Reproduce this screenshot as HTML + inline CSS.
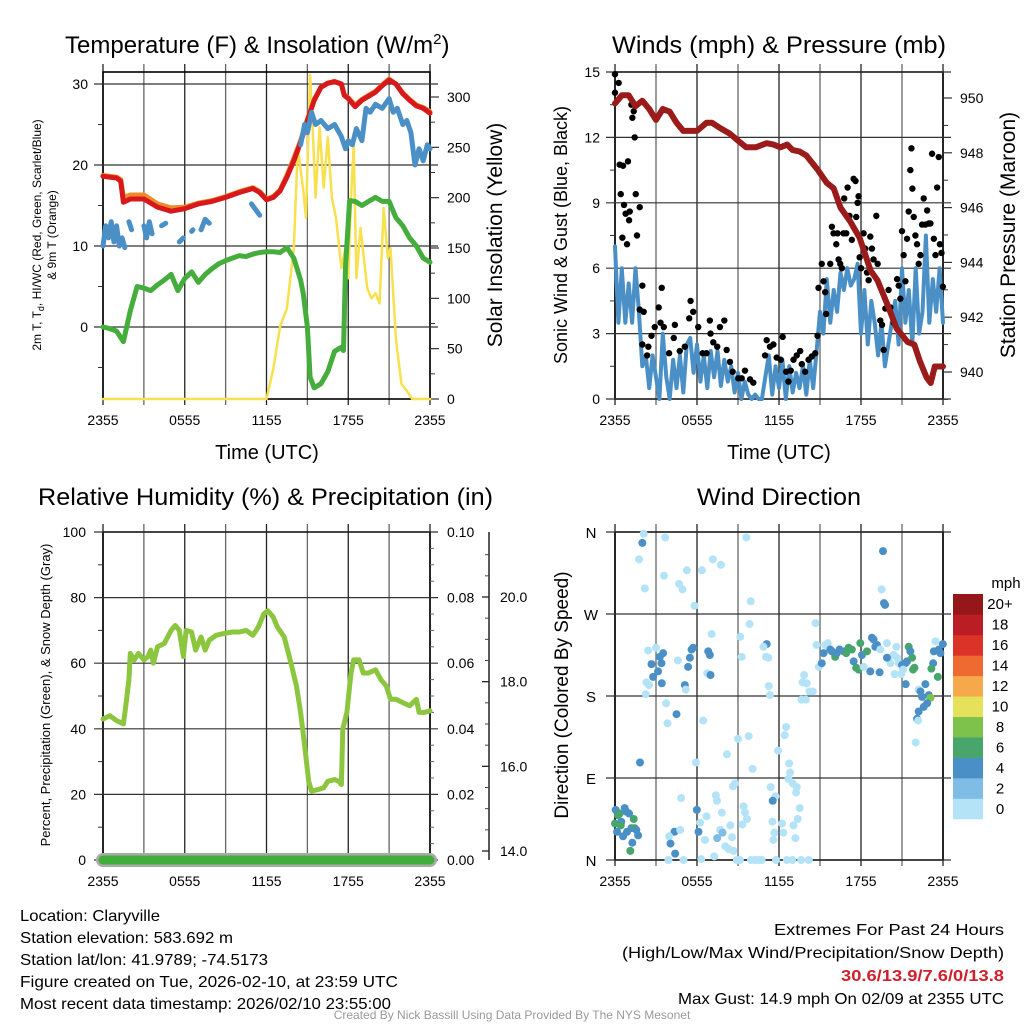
<!DOCTYPE html>
<html><head><meta charset="utf-8"><style>
html,body{margin:0;padding:0;background:#fff;}
svg{display:block;font-family:"Liberation Sans",Arial,sans-serif;}
</style></head><body>
<svg id="page" width="1024" height="1024" viewBox="0 0 1024 1024" xmlns="http://www.w3.org/2000/svg">
<rect x="0" y="0" width="1024" height="1024" fill="#fff"/>
<!-- titles -->
<text x="65" y="53" font-size="24">Temperature (F) &amp; Insolation (W/m<tspan font-size="15" dy="-9">2</tspan><tspan dy="9">)</tspan></text>
<text x="612" y="53" font-size="24" textLength="334" lengthAdjust="spacingAndGlyphs">Winds (mph) &amp; Pressure (mb)</text>
<text x="38" y="505" font-size="24" textLength="455" lengthAdjust="spacingAndGlyphs">Relative Humidity (%) &amp; Precipitation (in)</text>
<text x="697" y="505" font-size="24" textLength="164" lengthAdjust="spacingAndGlyphs">Wind Direction</text>
<!-- x axis titles -->
<text x="267" y="459" font-size="20" text-anchor="middle">Time (UTC)</text>
<text x="779" y="459" font-size="20" text-anchor="middle">Time (UTC)</text>
<!-- y axis titles -->
<text transform="translate(41,235) rotate(-90)" font-size="12" text-anchor="middle">2m T, T<tspan font-size="9" dy="3">d</tspan><tspan dy="-3">, HI/WC (Red, Green, Scarlet/Blue)</tspan></text>
<text transform="translate(56,235) rotate(-90)" font-size="12" text-anchor="middle">&amp; 9m T (Orange)</text>
<text transform="translate(502,235) rotate(-90)" font-size="21" text-anchor="middle">Solar Insolation (Yellow)</text>
<text transform="translate(567,235) rotate(-90)" font-size="18" text-anchor="middle">Sonic Wind &amp; Gust (Blue, Black)</text>
<text transform="translate(1015,235) rotate(-90)" font-size="21" text-anchor="middle">Station Pressure (Maroon)</text>
<text transform="translate(50,695) rotate(-90)" font-size="13" text-anchor="middle">Percent, Precipitation (Green), &amp; Snow Depth (Gray)</text>
<text transform="translate(568,695) rotate(-90)" font-size="19" text-anchor="middle">Direction (Colored By Speed)</text>
<!-- footer -->
<g font-size="16">
<text x="20" y="921" textLength="140" lengthAdjust="spacingAndGlyphs">Location: Claryville</text>
<text x="20" y="943" textLength="213" lengthAdjust="spacingAndGlyphs">Station elevation: 583.692 m</text>
<text x="20" y="965" textLength="248" lengthAdjust="spacingAndGlyphs">Station lat/lon: 41.9789; -74.5173</text>
<text x="20" y="987" textLength="378" lengthAdjust="spacingAndGlyphs">Figure created on Tue, 2026-02-10, at 23:59 UTC</text>
<text x="20" y="1009" textLength="371" lengthAdjust="spacingAndGlyphs">Most recent data timestamp: 2026/02/10 23:55:00</text>
</g>
<g font-size="16">
<text x="774" y="935" textLength="230" lengthAdjust="spacingAndGlyphs">Extremes For Past 24 Hours</text>
<text x="622" y="958" textLength="382" lengthAdjust="spacingAndGlyphs">(High/Low/Max Wind/Precipitation/Snow Depth)</text>
<text x="841" y="981" textLength="163" lengthAdjust="spacingAndGlyphs" fill="#d0202a" font-weight="bold">30.6/13.9/7.6/0/13.8</text>
<text x="678" y="1004" textLength="326" lengthAdjust="spacingAndGlyphs">Max Gust: 14.9 mph On 02/09 at 2355 UTC</text>
</g>
<text x="512" y="1019" font-size="12" fill="#999" text-anchor="middle">Created By Nick Bassill Using Data Provided By The NYS Mesonet</text>
<g id="charts"></g>
</svg>
<script>
// ===== Data =====
const timeTickLabels = ["2355","0555","1155","1755","2355"];
// Temperature panel
const tempTicks = [0,10,20,30];
const solarTicks = [0,50,100,150,200,250,300];
const redT = [0,0.5,1,1.3,1.5,2,3,4,5,6,7,8,9,10,11,11.5,12,12.5,13,13.5,14,14.5,15,15.5,16,16.5,17,17.5,17.7,18,18.5,19,19.5,20,20.5,21,21.5,22,22.5,23,23.5,24];
const redV = [18.6,18.5,18.4,18.0,15.4,15.8,15.8,14.8,14.3,14.6,15.2,15.5,16.0,16.6,17.1,16.6,15.7,16.0,16.8,18.5,20.5,22.8,25.5,28.0,29.6,30.1,30.3,30.0,28.6,28.2,27.2,28.0,28.5,29.0,29.8,30.5,30.0,28.8,28.0,27.3,27.0,26.4];
const orangeV = [18.7,18.6,18.5,18.2,16.0,16.3,16.3,15.2,14.7,14.8,15.3,15.6,16.1,16.7,17.2,16.7,15.8,16.1,16.9,18.7,20.8,23.0,25.6,28.0,29.6,30.1,30.3,30.0,28.7,28.3,27.4,28.1,28.6,29.1,29.9,30.6,30.0,28.9,28.1,27.4,27.1,26.6];
const blueT = [0,0.2,0.4,0.6,0.8,1.0,1.2,1.4,1.6,1.7,1.9,2.1,2.2,3.0,3.2,3.4,3.6,3.7,4.3,4.6,4.7,5.6,5.9,6.0,6.5,6.6,6.7,7.2,7.5,7.8,7.9,10.9,11.2,11.5,11.6,14.5,14.8,15.0,15.3,15.6,16.0,16.5,17.0,17.5,17.8,18.0,18.3,18.6,19.0,19.3,19.6,20.0,20.5,21.0,21.3,21.6,22.0,22.3,22.6,22.9,23.2,23.5,23.8,24.0];
const blueV = [10,12.5,11,13,10.5,12.5,10,11,9.8,null,13,12,null,12.5,11,13,11.5,null,12.5,12.8,null,10.5,11,null,11.8,12,null,12,13.3,12.8,null,15.2,14.5,13.8,null,22.5,25,24,26.5,25,25.5,24.5,25,23.5,22,23,22.5,24.5,23,27,26.5,27.5,27,28.2,26.5,27,25,25.5,24,20,22,20.5,22.5,22];
const greenT = [0,0.5,1,1.5,2,2.5,3,3.5,4,4.5,5,5.5,6,6.5,7,7.5,8,8.5,9,9.5,10,10.5,11,11.5,12,12.5,13,13.5,14,14.5,14.7,15,15.2,15.5,16,16.5,17,17.5,17.65,17.8,18.1,18.5,19,19.5,20,20.5,21,21.5,22,22.5,23,23.5,24];
const greenV = [0,-0.2,-0.5,-1.8,2,5,4.8,4.5,5.2,5.8,6.5,4.5,6.0,6.8,5.5,6.5,7.2,7.8,8.2,8.5,8.8,8.7,9.0,9.2,9.3,9.3,9.2,9.8,8.5,5.8,4.1,0,-6.2,-7.5,-7.0,-5.5,-3.0,-2.5,-2.9,7.4,15.6,15.5,15.0,15.5,16.0,15.5,15.5,13.5,12.5,11.0,10.0,8.5,8.0];
const solarT = [0,12,12.5,13,13.5,14,14.3,14.7,14.9,15.2,15.45,15.6,15.9,16.2,16.5,16.8,17.1,17.5,17.8,18.0,18.2,18.4,18.6,18.9,19.4,19.7,20.0,20.3,20.6,20.9,21.1,21.5,21.9,22.3,22.7,24];
const solarV = [0,0,30,72,90,150,250,207,180,322,250,200,270,210,260,200,180,130,150,120,200,252,120,170,110,100,105,95,190,140,150,60,15,8,0,0];
// Winds panel
const windTicks = [0,3,6,9,12,15];
const pressTicks = [940,942,944,946,948,950];
const windV = [7,3.5,6,3.5,5.3,3.5,6,4,1.5,2,0.5,2,1,0,3,1,0,1.8,0.5,2,0.3,2.5,2.8,1.2,2.5,0.8,2,0.5,2.2,1,2.2,0.6,1.8,0.8,1.5,0.3,1.2,0,0.8,0.2,0,0.2,0,0,1,2,0.2,1.5,0.5,1.8,0,1.5,0.3,1.2,0.5,1.5,0.2,1.8,0.5,2.2,4,3,5.5,3.5,5,4,5.8,5,6,5.2,5.5,6.2,3,5,2.5,4.5,3.5,2,3.5,1.5,2.5,3.5,4.5,2.5,6,3.5,5,2.5,6,3,4,7.5,3.5,5.5,4,6,3.5];
const gustT = [0,0,0.27,0.34,0.59,0.42,0.66,0.78,0.54,0.88,1.03,1.08,0.95,1.2,1.27,1.37,1.44,1.52,1.61,1.81,2.0,1.81,2.1,2.0,2.35,2.44,2.67,2.91,3.2,3.42,3.33,3.57,3.96,4.38,4.3,4.74,5.11,5.43,5.53,5.72,6.09,6.41,6.7,6.94,6.99,7.19,7.48,7.68,8.0,8.17,8.41,8.61,9.02,9.27,9.51,9.88,10.12,11.1,10.98,11.34,11.59,11.83,12.27,12.13,12.52,12.69,12.86,13.06,13.3,13.55,13.67,13.91,14.16,14.4,14.65,14.82,14.89,15.13,15.26,15.38,15.45,15.75,15.87,15.99,16.19,16.28,16.36,16.48,16.6,16.72,16.77,16.92,17.02,17.16,17.33,17.46,17.6,17.65,17.75,17.82,17.9,18.0,18.19,18.31,18.44,18.56,18.68,18.8,18.92,19.12,19.22,19.41,19.54,19.66,19.78,20.02,20.15,20.39,20.64,20.76,20.88,21.0,21.12,21.25,21.37,21.49,21.61,21.69,21.76,21.86,21.98,22.1,22.22,22.35,22.47,22.59,22.71,22.84,22.96,23.08,23.2,23.33,23.45,23.57,23.69,23.77,23.89,23.99];
const gustV = [14.9,14.05,14.5,10.75,10.7,9.4,8.9,8.5,7.4,7.1,8.2,8.6,10.9,13.5,12.9,13.2,12,9.4,7.5,8.8,5.2,4.1,4,2.5,2,2.4,2.9,3.3,4.2,5.1,3.5,3.3,2.1,3.4,2.8,2.2,2.4,3.7,4.5,4,3.3,2.1,2.1,3.6,3,2.6,2.4,3.3,3.6,2.25,1.7,1.25,0.95,0.95,1.3,0.9,0.75,2.7,2.0,2.4,2.5,1.9,2.85,1.8,1.25,0.8,1.3,1.8,2.0,2.2,1.6,1.25,1.8,1.95,2.1,2.9,5.1,6.2,5.4,4.9,3.9,6.2,7.9,7.6,7.1,7.6,6.4,6.2,6,7.6,9.2,7.6,9.7,8.4,7.3,10.1,10,8.35,9.0,9.3,6.5,6,7.6,6.9,5.8,5.45,7.45,6.9,6.4,8.4,6.2,3.6,3.4,2.25,4.15,5,4.2,3.5,5.5,5.2,4.6,7.7,6.6,5.4,7.35,8.6,10.5,11.5,9.65,8.35,7.5,7.1,6.2,6.6,8,9.2,8,8.65,8.05,8.05,11.25,7.35,6.6,9.7,11.1,7.1,6.7,5.15];
const pressT = [0,0.5,1,1.5,2,2.5,3,3.5,4,4.5,5,6,6.7,7.1,7.7,8.4,9.1,9.6,10.3,11.1,11.6,12.1,12.6,13.0,13.5,14,14.8,15.5,16,16.5,17.2,17.9,18.7,19.2,19.9,20.6,21.4,21.9,22.3,22.8,23.1,23.4,23.8,24];
const pressV = [949.8,950.1,950.1,949.7,949.9,949.6,949.2,949.6,949.5,949.1,948.8,948.8,949.1,949.1,948.9,948.7,948.4,948.2,948.2,948.35,948.3,948.2,948.3,948.1,948.05,947.9,947.4,946.9,946.7,946.0,945.5,944.9,943.7,943.35,942.5,941.6,941.1,941.0,940.4,939.8,939.6,940.2,940.2,940.2];
// Humidity panel
const rhTicks = [0,20,40,60,80,100];
const precipTickLabels = ["0.00","0.02","0.04","0.06","0.08","0.10"];
const snowTicks = [14,16,18,20];
const rhT = [0,0.5,1,1.5,1.7,1.9,2.0,2.3,2.6,3.0,3.3,3.5,3.7,4.0,4.5,5.0,5.3,5.6,5.9,6.1,6.5,6.8,7.2,7.5,7.8,8.3,8.8,9.5,10,10.5,11,11.4,11.8,12.1,12.5,12.8,13.3,13.8,14.2,14.5,14.8,15.1,15.3,15.8,16.2,16.5,17,17.3,17.5,17.6,17.9,18.2,18.4,18.8,19.1,19.5,20,20.4,20.8,21.1,21.5,22,22.5,23,23.2,23.6,24];
const rhV = [43,44,42.5,41.5,48,55,63,61,63,61,62,64,60,65,66,70,71.5,70,62,70,69.5,64,68,64,67,68.5,69,69.5,69.5,70,68.5,71,75,76,74,71,68,60,53,45,35,24,21,21.5,22,24,24.5,24,23,40,45,57,61,61,57,57,58,55,53,49,49,48,47,49,45,45,45.5];
const precipV = [0,0];
// Wind direction panel
const dirLabels = ["N","E","S","W","N"];
const speedBins = ["0","2","4","6","8","10","12","14","16","18","20+"];
const binColors = ["#b4e3f8","#7fbce6","#4a90c7","#48a66c","#7dc24a","#e6e15a","#f6a94a","#ef6a30","#dc3329","#bb1d25","#96171a"];
const dirT = [0.05,0,0.22,0.34,0.46,0.71,0.83,1.03,1.2,1.37,1.44,1.56,1.69,0.59,1.12,1.27,0.42,0.15,0.88,
2.1,2.0,1.76,2.18,3.67,3.59,4.69,4.94,5.26,6.36,7.16,7.75,5.82,9.61,9.93,9.85,2.42,3.0,2.67,3.28,3.52,3.4,2.79,3.15,3.42,2.3,2.49,2.25,3.74,3.84,4.5,1.83,4.6,5.35,5.48,5.6,5.72,5.11,5.18,6.82,6.94,7.07,6.75,6.99,9.17,9.27,11.1,10.86,11.05,11.22,11.25,11.34,14.67,14.74,13.84,13.72,14.03,14.23,14.47,13.64,13.96,6.45,9.0,9.78,12.52,12.42,11.93,5.92,8.19,10.07,12.74,12.81,12.69,13.01,13.3,13.25,11.39,11.74,11.54,8.63,8.78,7.38,7.46,4.84,5.99,6.23,6.7,7.82,9.41,9.51,9.66,9.32,8.44,7.7,7.87,7.48,8.56,8.07,8.31,8.66,6.11,6.58,7.26,4.35,3.96,4.06,4.4,4.77,3.91,5.01,6.31,8.92,9.14,9.95,10.24,10.49,10.73,11.78,12.57,12.98,13.62,14.18,11.52,11.66,12.32,12.22,13.06,13.2,13.37,13.52,11.59,19.61,19.51,19.76,19.68,
14.91,15.13,15.26,15.38,15.57,15.75,15.87,16.11,16.23,16.43,16.72,16.92,17.09,17.33,17.46,17.65,17.82,17.95,18.07,18.19,18.44,18.68,18.8,18.92,19.05,19.17,19.36,19.41,19.9,20.02,20.15,20.39,20.46,20.59,20.76,21.0,21.25,21.37,21.49,21.61,21.74,21.81,21.91,21.27,22.22,22.71,22.35,22.47,22.96,23.08,22.84,22.59,22.22,22.1,22.18,22.0,23.28,23.62,23.15,23.45,23.69,23.33,23.99,23.81,20.64,20.95,21.08,19.9];
const dirV = [55,40,49,51,42,57,53,51,35,45,35,33,27,26,10,19,38,31,31,
358,348,330,298,354,312,303,297,318,318,330,324,279,354,284,259,230,233,215,223,227,216,201,207,194,195,192,182,172,150,160,107,219,212,222,231,233,192,187,229,225,248,205,203,245,223,237,234,223,222,191,181,260,236,203,195,194,185,185,176,176,153,133,136,146,137,120,107,116,100,106,96,89,84,80,74,80,70,65,81,84,71,65,68,55,41,48,52,59,52,45,39,38,33,30,24,25,15,12,10,31,22,4,31,26,18,7,33,0,0,1,0,0,0,0,0,0,0,0,0,0,0,42,30,30,40,38,24,45,57,22,339,297,280,282,
212,216,227,236,238,231,229,223,227,231,229,227,233,231,218,211,209,238,225,212,229,207,244,242,234,236,206,231,238,222,216,225,204,234,216,214,216,218,234,229,222,209,211,193,187,193,185,179,181,178,172,168,163,155,153,129,216,201,210,240,231,229,237,227,222,204,209,222];
const dirSpd = [4.5,7,7,7,5,5,5,4.5,5,7,7,5,4.5,4.5,7,4.5,7,4.5,5,
1,4.5,1,1,1,1,1,1,1,1,1,1,1,1,1,1,1,1,5,5,4.5,4.5,4.5,4.5,4.5,1,1,1,1,1,5,4.5,1,4.5,4.5,4.5,4.5,4.5,1,4.5,4.5,1,1,4.5,1,1,5,1,1,1,1,1,1,1,1,1,1,1,1,1,1,1,1,1,1,1,1,1,1,1,1,1,1,1,1,1,1,1,4.5,1,1,1,1,1,4.5,1,1,1,1,1,1,1,1,1,3,3,1,1,1,1,4.5,1,1,4.5,1,4.5,4.5,1,1,1,1,1,1,1,1,1,1,1,1,1,1,1,1,1,1,1,1,1,1,1,1,4.5,1,5,4.5,1,
4.5,5,1,1,4.5,5,7,5,5,4.5,7,7,7,4.5,7,7,7,4.5,1,7,4.5,4.5,5,5,4.5,4.5,1,1,1,1,1,1,1,1,4.5,4.5,4.5,7,4.5,7,7,7,4.5,1,4.5,4.5,4.5,4.5,9,4.5,4.5,4.5,4.5,1,1,4.5,7,7,1,4.5,4.5,4.5,4.5,1,1,1,4.5,1];

// ===== Helpers =====
const NS = "http://www.w3.org/2000/svg";
const root = document.getElementById('charts');
function mk(tag, parent){ const e = document.createElementNS(NS, tag); (parent||root).appendChild(e); return e; }
function lin(d0,d1,r0,r1){ return v => r0 + (v-d0)/(d1-d0)*(r1-r0); }
function pathFrom(ts, vs, xf, yf){
  let d = "", pen = false;
  for (let i=0;i<ts.length;i++){
    const v = vs[i];
    if (v===null || v===undefined){ pen=false; continue; }
    const x = xf(ts[i]).toFixed(1), y = yf(v).toFixed(1);
    if (!pen){ d += "M"+x+" "+y; if (i+1>=ts.length || vs[i+1]===null) d += "L"+x+" "+y; pen=true; }
    else d += "L"+x+" "+y;
  }
  return d;
}
function line(x1,y1,x2,y2,stroke,w,name,g){
  const l = mk('line', g);
  l.setAttribute('x1',x1); l.setAttribute('y1',y1); l.setAttribute('x2',x2); l.setAttribute('y2',y2);
  l.setAttribute('stroke',stroke); l.setAttribute('stroke-width',w);
  
  
  return l;
}
function label(x,y,txt,anchor,size,name,g){
  const t = mk('text', g);
  t.setAttribute('x',x); t.setAttribute('y',y); t.setAttribute('text-anchor',anchor); t.setAttribute('font-size',size);
  t.textContent = txt;
  
  
  return t;
}
function series(g, ts, vs, xf, yf, color, w, name){
  const p = mk('path', g);
  p.setAttribute('d', pathFrom(ts, vs, xf, yf));
  p.setAttribute('fill','none'); p.setAttribute('stroke',color); p.setAttribute('stroke-width',w);
  p.setAttribute('stroke-linecap','round'); p.setAttribute('stroke-linejoin','round');
  
  
  return p;
}
function frame(g, P, name){
  for (let k=0;k<=8;k++){
    const x = P.x0 + k*(P.x1-P.x0)/8;
    line(x, P.y0-8, x, P.y1+6, k%2? "#666":"#222", 1.3, name+'-vgrid', g);
  }
  timeTickLabels.forEach((s,i)=>{
    label(P.x0 + i*(P.x1-P.x0)/4, P.y1+26, s, 'middle', 14, name+'-x-tick-label', g);
  });
  const r = mk('rect', g);
  r.setAttribute('x',P.x0); r.setAttribute('y',P.y0); r.setAttribute('width',P.x1-P.x0); r.setAttribute('height',P.y1-P.y0);
  r.setAttribute('fill','none'); r.setAttribute('stroke','#000'); r.setAttribute('stroke-width',1.6);
  
  
}

// ===== Panel 1: Temperature =====
(function(){
  const P = {x0:103,x1:430,y0:72,y1:399};
  const g = mk('g');
  
  
  const x = lin(0,24,P.x0,P.x1), y = lin(0,30,327,84), y2 = lin(0,300,399,97);
  frame(g,P,'temperature');
  tempTicks.forEach(v=>{ line(P.x0-9, y(v), P.x1+8, y(v), "#333", 1.2, 'temperature-hgrid', g);
    label(P.x0-15, y(v)+5, String(v), 'end', 14, 'temperature-y-tick-label', g); });
  [-5,5,15,25].forEach(v=> line(P.x0-5,y(v),P.x0,y(v),"#333",1,'temperature-minor-tick',g));
  solarTicks.forEach(v=>{ line(P.x1, y2(v), P.x1+9, y2(v), "#333", 1.2, 'solar-tick', g);
    label(P.x1+17, y2(v)+5, String(v), 'start', 14, 'solar-y-tick-label', g); });
  for (let v=25; v<320; v+=50) line(P.x1,y2(v),P.x1+5,y2(v),"#333",1,'solar-minor-tick',g);
  const c = mk('g', g);
  c.setAttribute('clip-path','url(#clipT)');
  
  
  series(c, solarT, solarV, x, y2, "#f8e04e", 2.5, 'solar-insolation-line');
  series(c, redT, orangeV, x, y, "#f08a2c", 5, 'nine-meter-temp-line');
  series(c, redT, redV, x, y, "#d7191c", 5, 'two-meter-temp-line');
  series(c, blueT, blueV, x, y, "#4a90c7", 5, 'wind-chill-line');
  series(c, greenT, greenV, x, y, "#44ad3c", 5, 'dewpoint-line');
})();

// ===== Panel 2: Winds =====
(function(){
  const P = {x0:615,x1:943,y0:72,y1:399};
  const g = mk('g');
  
  
  const x = lin(0,24,P.x0,P.x1), y = lin(0,15,399,72), y2 = lin(940,950,372,98);
  frame(g,P,'winds');
  windTicks.forEach(v=>{ line(P.x0-9, y(v), P.x1+8, y(v), "#333", 1.2, 'wind-hgrid', g);
    label(P.x0-15, y(v)+5, String(v), 'end', 14, 'wind-y-tick-label', g); });
  [1.5,4.5,7.5,10.5,13.5].forEach(v=> line(P.x0-5,y(v),P.x0,y(v),"#333",1,'wind-minor-tick',g));
  pressTicks.forEach(v=>{ line(P.x1, y2(v), P.x1+9, y2(v), "#333", 1.2, 'pressure-tick', g);
    label(P.x1+17, y2(v)+5, String(v), 'start', 14, 'pressure-y-tick-label', g); });
  [939,941,943,945,947,949].forEach(v=> line(P.x1,y2(v),P.x1+5,y2(v),"#333",1,'pressure-minor-tick',g));
  const wt = windV.map((v,i)=> i*24/(windV.length-1));
  series(g, wt, windV, x, y, "#4a90c7", 4, 'sonic-wind-line');
  gustT.forEach((t,i)=>{
    const c = mk('circle', g);
    c.setAttribute('cx', x(t)); c.setAttribute('cy', y(gustV[i])); c.setAttribute('r', 3.2); c.setAttribute('fill','#000');
    
    
  });
  series(g, pressT, pressV, x, y2, "#9b1b1b", 6, 'station-pressure-line');
})();

// ===== Panel 3: Humidity =====
(function(){
  const P = {x0:103,x1:430,y0:532,y1:860};
  const g = mk('g');
  
  
  const x = lin(0,24,P.x0,P.x1), y = lin(0,100,860,532), ys = lin(14,20,851,597);
  frame(g,P,'humidity');
  rhTicks.forEach((v,i)=>{ line(P.x0-9, y(v), P.x1+8, y(v), "#333", 1.2, 'humidity-hgrid', g);
    label(P.x0-17, y(v)+5, String(v), 'end', 14, 'humidity-y-tick-label', g);
    label(P.x1+17, y(v)+5, precipTickLabels[i], 'start', 14, 'precip-y-tick-label', g); });
  [10,30,50,70,90].forEach(v=>{ line(P.x0-5,y(v),P.x0,y(v),"#333",1,'humidity-minor-tick',g); });
  for (let v=5; v<100; v+=5) if (v%20) line(P.x1,y(v),P.x1+4,y(v),"#666",1,'precip-minor-tick',g);
  line(489, 532, 489, 860, "#222", 1.5, 'snow-depth-axis', g);
  snowTicks.forEach(v=>{ line(482, ys(v), 489, ys(v), "#222", 1.3, 'snow-tick', g);
    label(500, ys(v)+5, v.toFixed(1), 'start', 14, 'snow-y-tick-label', g); });
  for (let v=14.5; v<21.5; v+=0.5) if (v%2) line(485,ys(v),489,ys(v),"#444",1,'snow-minor-tick',g);
  series(g, [0,24], [0,0], x, y, "#aaa", 14, 'snow-depth-line');
  series(g, [0,24], precipV, x, y, "#3fae3a", 9, 'precipitation-line');
  series(g, rhT, rhV, x, y, "#8cc63f", 5, 'relative-humidity-line');
})();

// ===== Panel 4: Wind direction =====
(function(){
  const P = {x0:615,x1:943,y0:532,y1:860};
  const g = mk('g');
  
  
  const x = lin(0,24,P.x0,P.x1), y = lin(0,360,860,532);
  frame(g,P,'direction');
  dirLabels.forEach((s,i)=>{ line(P.x0-9, y(i*90), P.x1+8, y(i*90), "#333", 1.2, 'direction-hgrid', g);
    label(591, y(i*90)+6, s, 'middle', 15, 'direction-y-tick-label', g); });
  dirT.forEach((t,i)=>{
    const c = mk('circle', g);
    const b = Math.min(10, Math.floor(dirSpd[i]/2));
    c.setAttribute('cx', x(t)); c.setAttribute('cy', y(dirV[i])); c.setAttribute('r', 4);
    c.setAttribute('fill', binColors[b]);
    
    
  });
  const cb = mk('g');
  
  
  const h = (819-594)/11;
  binColors.forEach((col,i)=>{
    const r = mk('rect', cb);
    r.setAttribute('x',953); r.setAttribute('y', 819-(i+1)*h); r.setAttribute('width',30); r.setAttribute('height',h+0.3);
    r.setAttribute('fill', col);
    
    
    label(1000, 819-i*h-h/2+5, speedBins[i], 'middle', 15, 'colorbar-label', cb);
  });
  label(1006, 588, 'mph', 'middle', 15, 'colorbar-title', cb);
})();

// clip path for temperature panel
const defs = mk('defs', document.getElementById('page'));
const cp = mk('clipPath', defs); cp.setAttribute('id','clipT');
const cr = mk('rect', cp); cr.setAttribute('x',95); cr.setAttribute('y',72); cr.setAttribute('width',345); cr.setAttribute('height',330);
</script>
</body></html>
